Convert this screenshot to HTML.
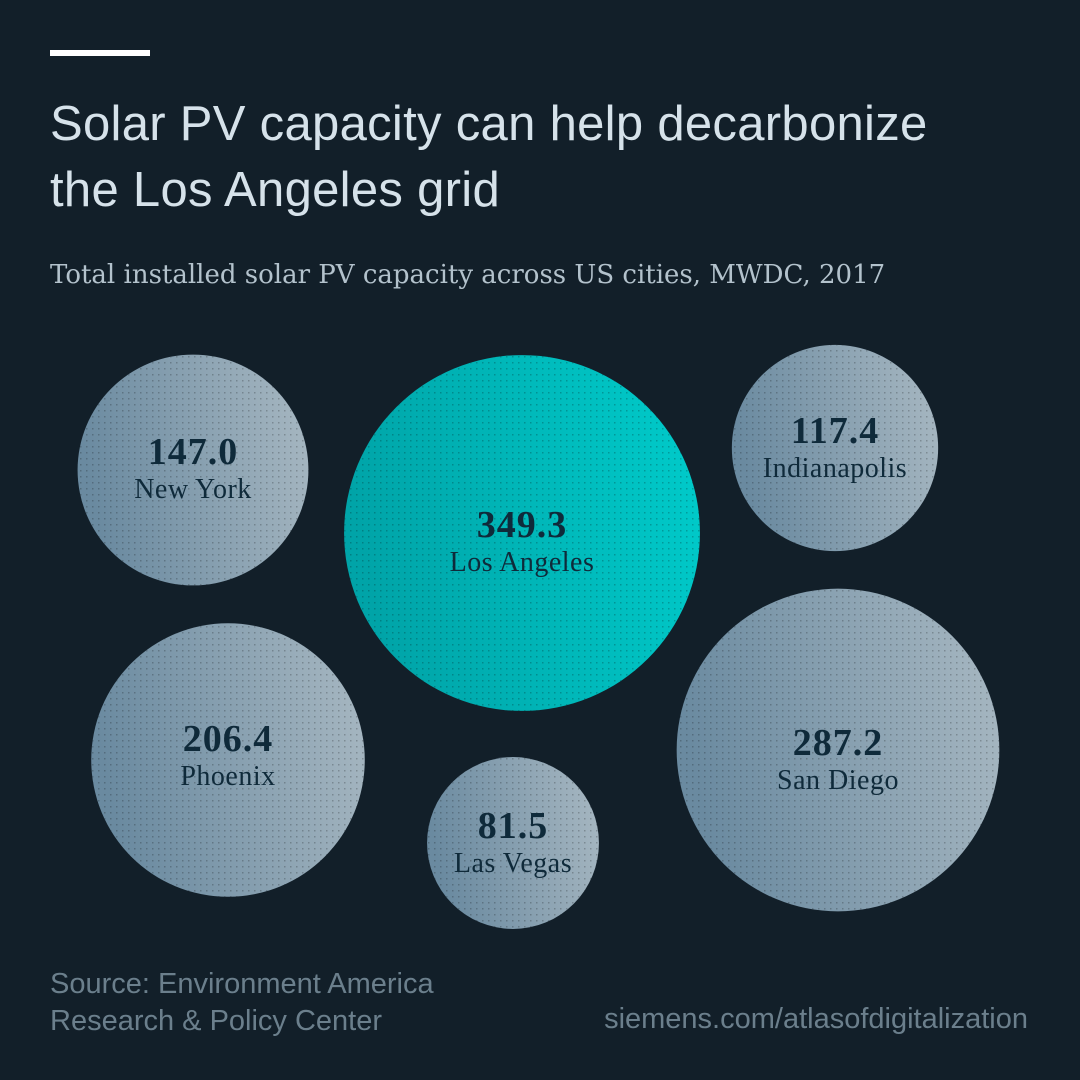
<!DOCTYPE html>
<html><head><meta charset="utf-8"><style>
html,body{margin:0;padding:0;background:#121f29;}
#root{position:relative;width:1080px;height:1080px;background:#121f29;overflow:hidden;font-family:"Liberation Sans",sans-serif;}
.t{position:absolute;margin:0;}
</style></head><body>
<div id="root">
<div class="t" style="left:50px;top:50px;width:100px;height:6px;background:#fff;"></div>
<h1 class="t" style="left:50px;top:91px;font-size:49px;line-height:66px;font-weight:normal;color:#d6e2ea;letter-spacing:0.3px;">Solar PV capacity can help decarbonize<br>the Los Angeles grid</h1>
<div class="t" style="left:50px;top:260px;font-size:26px;font-family:'DejaVu Serif',serif;color:#b3c2cc;white-space:nowrap;">Total installed solar PV capacity across US cities, MWDC, 2017</div>
<svg id="chart" width="1080" height="1080" style="position:absolute;left:0;top:0;">
<defs>
<linearGradient id="g1" x1="0" y1="0.3" x2="1" y2="0.1"><stop offset="0" stop-color="#6a8aa0"/><stop offset="1" stop-color="#a8b8c2"/></linearGradient>
<linearGradient id="g2" x1="0" y1="0.3" x2="1" y2="0.1"><stop offset="0" stop-color="#00a4a8"/><stop offset="1" stop-color="#00cccb"/></linearGradient>
<pattern id="dots" width="6" height="6" patternUnits="userSpaceOnUse"><rect x="2" y="2" width="1.5" height="1.5" fill="rgba(0,0,0,0.22)"/></pattern>
</defs>
<g id="bubbles"></g>
</svg>
<div class="t" style="left:50px;top:966px;font-size:29px;line-height:37px;color:#6b7f8c;">Source: Environment America<br>Research &amp; Policy Center</div>
<div class="t" style="right:52px;top:1003px;font-size:29px;color:#6b7f8c;">siemens.com/atlasofdigitalization</div>
</div>
<script>
const cities = ["New York","Los Angeles","Indianapolis","Phoenix","Las Vegas","San Diego"];
const values = [147.0,349.3,117.4,206.4,81.5,287.2];
const centersX = [193,522,835,228,513,838];
const centersY = [470,533,448,760,843,750];
const highlight = "Los Angeles";
const textShift = [0,10,1,-3,1,11];
const k = 9.52;
function rScale(v){return Math.sqrt(v)*k;}
const NS="http://www.w3.org/2000/svg";
const g=document.getElementById('bubbles');
cities.forEach((c,i)=>{
  const r=rScale(values[i]);
  const grp=document.createElementNS(NS,'g');
  
  
  const circ=document.createElementNS(NS,'circle');
  circ.setAttribute('cx',centersX[i]);circ.setAttribute('cy',centersY[i]);circ.setAttribute('r',r);
  circ.setAttribute('fill',c===highlight?'url(#g2)':'url(#g1)');
  
  
  grp.appendChild(circ);
  const d=document.createElementNS(NS,'circle');
  d.setAttribute('cx',centersX[i]);d.setAttribute('cy',centersY[i]);d.setAttribute('r',r);
  d.setAttribute('fill','url(#dots)');
  
  
  grp.appendChild(d);
  const tv=document.createElementNS(NS,'text');
  tv.setAttribute('x',centersX[i]);tv.setAttribute('y',centersY[i]-6+textShift[i]);
  tv.setAttribute('text-anchor','middle');
  tv.setAttribute('style','font-family:"Liberation Serif",serif;font-weight:bold;font-size:38px;letter-spacing:1px;fill:#0f2a3a;');
  tv.textContent=values[i].toFixed(1);
  
  
  grp.appendChild(tv);
  const tl=document.createElementNS(NS,'text');
  tl.setAttribute('x',centersX[i]);tl.setAttribute('y',centersY[i]+28+textShift[i]);
  tl.setAttribute('text-anchor','middle');
  tl.setAttribute('style','font-family:"Liberation Serif",serif;font-size:28px;letter-spacing:0.5px;fill:#0f2a3a;');
  tl.textContent=c;
  
  
  grp.appendChild(tl);
  g.appendChild(grp);
});
</script>
</body></html>
